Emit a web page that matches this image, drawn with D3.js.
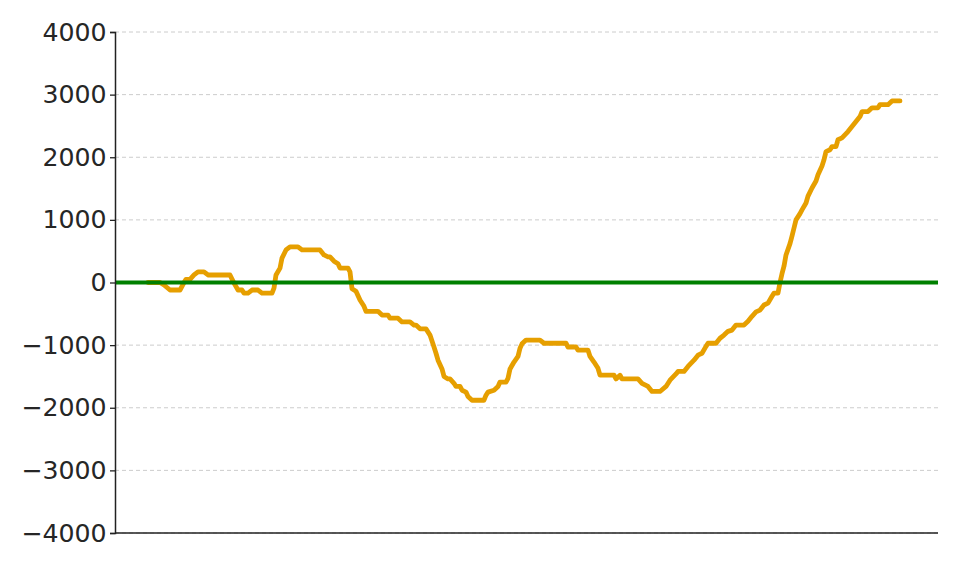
<!DOCTYPE html>
<html>
<head>
<meta charset="utf-8">
<script src="https://cdn.jsdelivr.net/npm/d3@7/dist/d3.min.js"></script>
<style>
  html, body { margin: 0; padding: 0; background: #fff; }
  svg { display: block; }
</style>
</head>
<body>
<svg id="chart" width="960" height="570"></svg>
<script>
// Bet index (x) and cumulative profit (y)
const betIndex = [0,6,8,11,16,18,19,21,23,25,28,30,41,43,45,47,48,50,52,55,57,62,63,64,66,67,69,71,75,77,86,88,90,91,93,95,96,100,101,102,104,106,108,109,115,117,120,121,125,127,131,133,134,136,139,141,143,144,145,147,148,150,151,153,154,156,157,159,160,162,168,169,170,173,175,176,179,180,181,183,185,186,187,189,196,198,209,210,214,215,220,221,223,225,226,233,234,236,237,245,247,250,252,256,259,261,264,265,268,270,273,275,277,279,280,284,286,288,290,292,294,298,300,302,304,306,308,310,312,313,315,316,317,318,319,321,322,323,324,326,327,329,330,332,334,335,337,338,339,341,342,344,345,347,350,352,354,356,357,360,362,365,366,370,372,376];
const profit = [0,0,-40,-120,-120,0,50,50,120,170,170,120,120,-10,-120,-120,-170,-170,-120,-120,-170,-170,-90,120,230,390,520,570,570,520,520,440,410,410,340,300,230,230,170,-100,-140,-280,-380,-460,-460,-520,-520,-570,-570,-630,-630,-680,-680,-740,-740,-840,-1030,-1130,-1240,-1380,-1500,-1540,-1540,-1610,-1660,-1660,-1720,-1750,-1820,-1880,-1880,-1800,-1750,-1720,-1660,-1590,-1590,-1530,-1380,-1270,-1180,-1050,-980,-920,-920,-970,-970,-1030,-1030,-1080,-1080,-1180,-1270,-1370,-1480,-1480,-1540,-1480,-1540,-1540,-1610,-1660,-1740,-1740,-1660,-1560,-1460,-1420,-1420,-1340,-1240,-1160,-1130,-1020,-970,-970,-890,-840,-780,-760,-680,-680,-620,-540,-470,-440,-360,-330,-220,-170,-170,0,140,260,440,620,740,870,1000,1100,1160,1270,1380,1510,1620,1720,1860,1960,2090,2120,2170,2170,2280,2310,2410,2490,2570,2650,2730,2730,2790,2790,2840,2840,2900,2900];
const yTicks = [-4000,-3000,-2000,-1000,0,1000,2000,3000,4000];

const margin = {left: 115, right: 22, top: 32, bottom: 37};
const W = 960, H = 570;
const svg = d3.select("#chart");

const x = d3.scaleLinear().domain([-16.5, 395]).range([margin.left, W - margin.right]);
const y = d3.scaleLinear().domain([-4000, 4000]).range([H - margin.bottom, margin.top]);

// gridlines
svg.append("g")
  .selectAll("line").data(yTicks).join("line")
  .attr("x1", margin.left).attr("x2", W - margin.right)
  .attr("y1", d => y(d)).attr("y2", d => y(d))
  .attr("stroke", "#cccccc").attr("stroke-width", 1)
  .attr("stroke-dasharray", "4,3");

// profit line
const data = betIndex.map((b, i) => ({b, p: profit[i]}));
svg.append("path")
  .datum(data)
  .attr("fill", "none")
  .attr("stroke", "#E69F00")
  .attr("stroke-width", 4.8)
  .attr("stroke-linejoin", "round")
  .attr("stroke-linecap", "round")
  .attr("d", d3.line().x(d => x(d.b)).y(d => y(d.p)));

// zero line
svg.append("line")
  .attr("x1", margin.left).attr("x2", W - margin.right)
  .attr("y1", y(0)).attr("y2", y(0))
  .attr("stroke", "#008000").attr("stroke-width", 3.8);

// y axis
const fmt = d => (d < 0 ? "\u2212" : "") + Math.abs(d);
const yAxis = svg.append("g")
  .attr("transform", `translate(${margin.left},0)`)
  .call(d3.axisLeft(y).tickValues(yTicks).tickFormat(fmt).tickSize(5).tickPadding(3.5));
yAxis.select(".domain").attr("stroke", "#222").attr("stroke-width", 1.5);
yAxis.selectAll(".tick line").attr("stroke", "#222").attr("stroke-width", 1.3);
yAxis.selectAll(".tick text")
  .attr("fill", "#262626")
  .style("font-family", "'DejaVu Sans', sans-serif")
  .style("font-size", "25.2px");

// x axis (no ticks)
svg.append("line")
  .attr("x1", margin.left).attr("x2", W - margin.right)
  .attr("y1", y(-4000)).attr("y2", y(-4000))
  .attr("stroke", "#222").attr("stroke-width", 1.5);
</script>
</body>
</html>
